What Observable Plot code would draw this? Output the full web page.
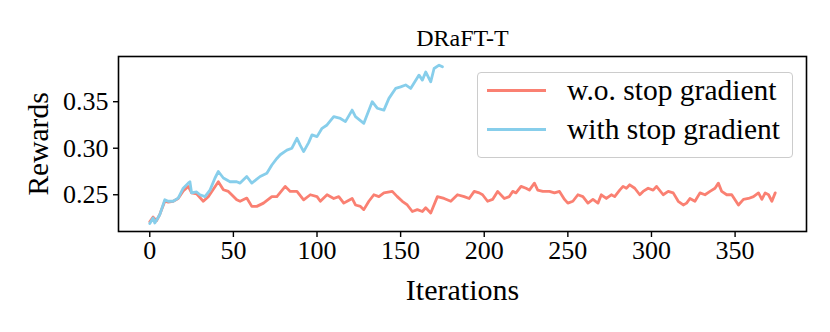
<!DOCTYPE html>
<html>
<head>
<meta charset="utf-8">
<script src="https://cdn.jsdelivr.net/npm/d3@7"></script>
<script src="https://cdn.jsdelivr.net/npm/@observablehq/plot@0.6"></script>
<style>
  html, body { margin: 0; padding: 0; background: #fff; }
  #wrap { position: relative; width: 830px; height: 332px; font-family: "Liberation Serif", "DejaVu Serif", serif; }
  #legend { position: absolute; left: 477px; top: 72px; width: 316px; height: 86px; border: 1.5px solid #cccccc; border-radius: 4px; background: rgba(255,255,255,0.85); box-sizing: border-box; }
  .item { position: absolute; left: 0; display: flex; align-items: center; font-size: 29.5px; line-height: 1.1; color: #000; white-space: nowrap; }
  .sw { width: 59px; height: 3px; margin-left: 9px; margin-right: 21px; }
</style>
</head>
<body>
<div id="wrap"></div>
<script>
// ---- data ----
const title = "DRaFT-T";
const xLabel = "Iterations";
const yLabel = "Rewards";
const seriesNames = ["w.o. stop gradient", "with stop gradient"];
const seriesColors = ["#FA8072", "#87CEEB"];
const xTicks = [0, 50, 100, 150, 200, 250, 300, 350];
const yTicks = [0.25, 0.30, 0.35];

const woIter = [0,2,4,6,9,11,14,17,20,23,25,28,32,35,38,41,44,47,49,52,54,58,61,64,68,73,76,81,84,88,92,96,100,102,106,110,113,116,118,121,123,126,128,131,134,137,140,145,148,151,154,157,160,163,165,168,172,176,180,184,188,191,194,197,199,202,205,208,212,215,217,219,222,225,227,230,232,235,239,242,245,248,250,253,256,259,262,265,268,270,273,276,278,281,283,285,287,290,293,295,298,301,303,307,310,313,316,319,321,323,326,329,332,335,338,340,342,345,348,352,355,358,361,364,366,368,370,372,374];
const woReward = [0.221,0.226,0.222,0.229,0.243,0.242,0.243,0.246,0.254,0.259,0.252,0.251,0.243,0.248,0.256,0.264,0.2554,0.2536,0.25,0.2446,0.243,0.2464,0.2375,0.2375,0.241,0.248,0.248,0.259,0.2536,0.2536,0.2446,0.25,0.248,0.243,0.25,0.246,0.248,0.241,0.243,0.246,0.239,0.2375,0.234,0.243,0.25,0.248,0.252,0.2536,0.248,0.243,0.239,0.232,0.234,0.232,0.236,0.2304,0.248,0.246,0.243,0.25,0.248,0.246,0.2536,0.252,0.25,0.243,0.245,0.2536,0.246,0.248,0.2536,0.252,0.259,0.257,0.255,0.2625,0.255,0.2536,0.2536,0.252,0.2536,0.245,0.241,0.243,0.25,0.248,0.241,0.245,0.241,0.25,0.246,0.25,0.248,0.255,0.259,0.257,0.2607,0.257,0.25,0.2536,0.257,0.255,0.259,0.25,0.2536,0.252,0.243,0.239,0.241,0.246,0.243,0.252,0.25,0.2536,0.257,0.2625,0.2536,0.25,0.25,0.239,0.245,0.246,0.248,0.252,0.245,0.252,0.25,0.243,0.252];

const wsIter = [0,2,3,6,9,11,14,17,20,23,24,25,28,30,33,36,39,41,44,48,52,54,58,61,66,70,73,76,78,82,85,88,90,92,95,97,100,103,106,110,114,117,121,123,128,133,136,140,143,147,150,153,156,161,163,165,168,170,173,175];
const wsReward = [0.219,0.225,0.2197,0.2286,0.2446,0.243,0.243,0.2464,0.257,0.2625,0.264,0.252,0.253,0.25,0.248,0.255,0.268,0.275,0.268,0.264,0.264,0.2625,0.2696,0.2625,0.2696,0.2732,0.282,0.289,0.293,0.298,0.300,0.3107,0.303,0.2964,0.306,0.3143,0.3125,0.3214,0.325,0.334,0.332,0.3286,0.341,0.334,0.3268,0.35,0.343,0.341,0.3536,0.3643,0.366,0.368,0.3643,0.3786,0.3732,0.382,0.3714,0.3857,0.3893,0.3875];

const rows = [
  ...woIter.map((x, i) => ({x, y: woReward[i], s: seriesNames[0]})),
  ...wsIter.map((x, i) => ({x, y: wsReward[i], s: seriesNames[1]}))
];

const chart = Plot.plot({
  width: 830,
  height: 332,
  marginTop: 56,
  marginLeft: 118,
  marginRight: 24,
  marginBottom: 101,
  style: { fontFamily: "Liberation Serif, DejaVu Serif, serif", background: "white", color: "black" },
  x: { domain: [-18.7, 392.7] },
  y: { domain: [0.2105, 0.3986] },
  color: { domain: seriesNames, range: seriesColors },
  marks: [
    Plot.line(rows, { x: "x", y: "y", z: "s", stroke: "s", strokeWidth: 2.8, strokeLinejoin: "round" }),
    Plot.frame({ stroke: "black", strokeWidth: 1.6 }),
    Plot.axisX({ ticks: xTicks, tickSize: 6, tickPadding: 3, fontSize: 26, label: null, strokeWidth: 1.4 }),
    Plot.axisY({ ticks: yTicks, tickFormat: d3.format(".2f"), tickSize: 5, tickPadding: 5, fontSize: 26, label: null, strokeWidth: 1.4 }),
    Plot.text([title], { frameAnchor: "top", lineAnchor: "middle", dy: -18, fontSize: 24, text: d => d }),
    Plot.text([xLabel], { frameAnchor: "bottom", lineAnchor: "middle", dy: 59, fontSize: 30, text: d => d }),
    Plot.text([yLabel], { frameAnchor: "left", textAnchor: "middle", lineAnchor: "middle", dx: -80, rotate: -90, fontSize: 29.5, text: d => d })
  ]
});

const wrap = document.getElementById("wrap");
wrap.appendChild(chart);

const legend = document.createElement("div");
legend.id = "legend";
seriesNames.forEach((name, i) => {
  const item = document.createElement("div");
  item.className = "item";
  item.style.top = (i === 0 ? 1 : 40) + "px";
  const sw = document.createElement("div");
  sw.className = "sw";
  sw.style.background = seriesColors[i];
  const t = document.createElement("span");
  t.textContent = name;
  item.appendChild(sw);
  item.appendChild(t);
  legend.appendChild(item);
});
wrap.appendChild(legend);
</script>
</body>
</html>
